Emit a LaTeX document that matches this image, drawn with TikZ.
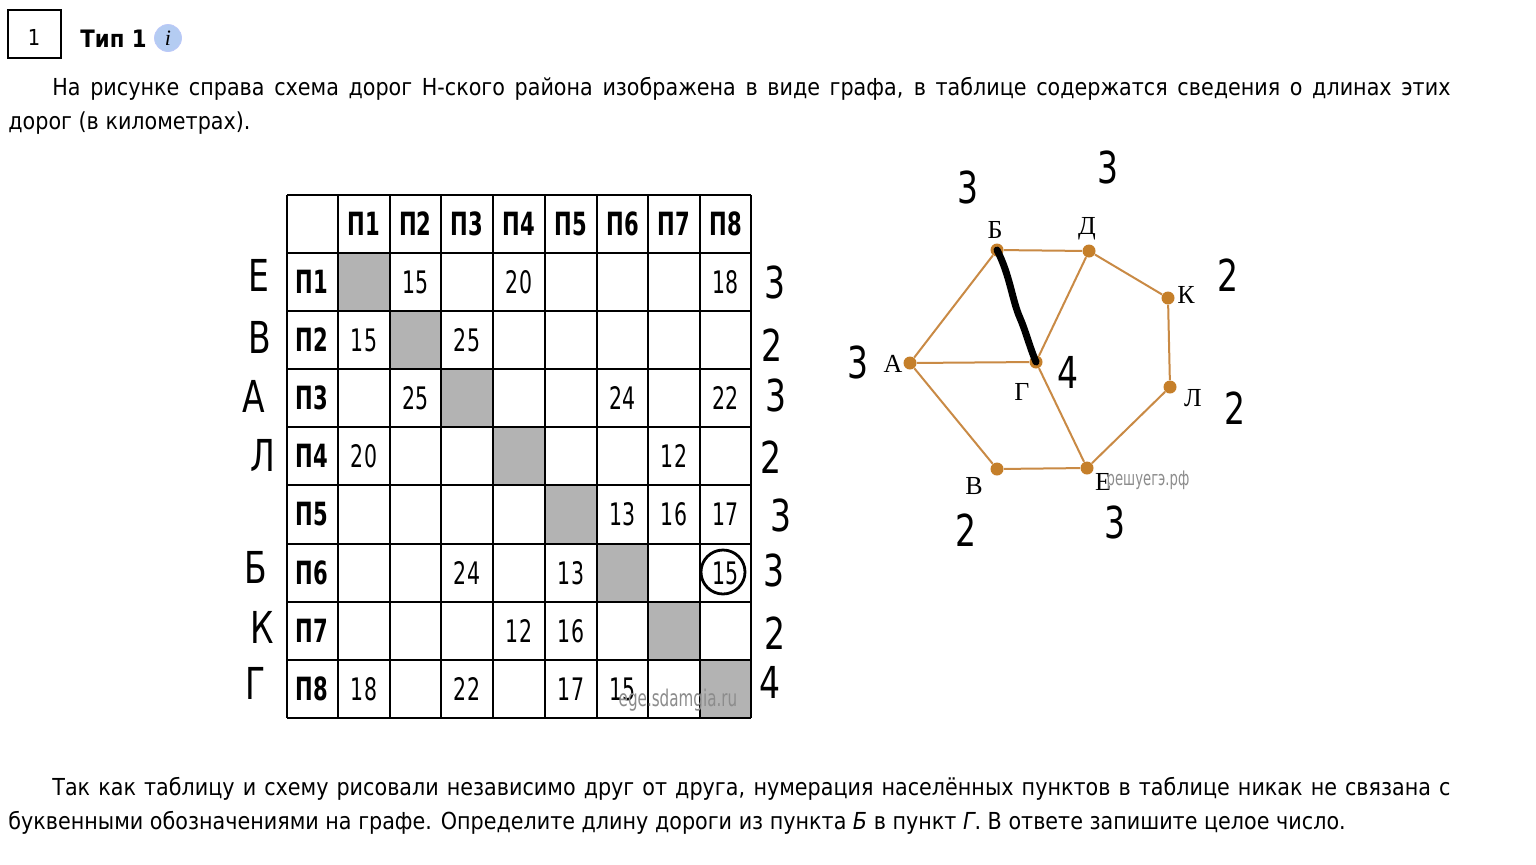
\documentclass[tikz,border=0pt]{standalone}
\usepackage{fontspec}
\setmainfont{DejaVu Sans}[FakeStretch=0.885]
\newfontfamily\tabfont{DejaVu Sans}[FakeStretch=0.66]
\newfontfamily\serf{Liberation Serif}
\newfontfamily\hand{DejaVu Sans}[FakeStretch=0.75]
\definecolor{road}{HTML}{C98A45}
\definecolor{dotc}{HTML}{C57F2A}
\definecolor{cellgray}{HTML}{B3B3B3}
\definecolor{wm}{HTML}{8C8C8C}
\definecolor{infoblue}{HTML}{B4CCF2}
\begin{document}
\begin{tikzpicture}[x=0.5pt,y=-0.5pt,
  body/.style={anchor=base west,inner sep=0,font=\fontsize{11.7}{14}\selectfont},
  hd/.style={inner sep=0,font=\tabfont\bfseries\fontsize{16}{16}\selectfont},
  val/.style={inner sep=0,font=\tabfont\fontsize{15.5}{16}\selectfont},
  hw/.style={inner sep=0,font=\hand\fontsize{22}{22}\selectfont},
  vtx/.style={circle,fill=dotc,inner sep=0,minimum size=6.5pt},
  vlab/.style={inner sep=0,font=\serf\fontsize{13}{13}\selectfont},
  edge/.style={road,line width=1pt},
  grid/.style={line width=1pt,black}]
\useasboundingbox (0,0) rectangle (1536,864);
\fill[white] (0,0) rectangle (1536,864);
% header
\draw[line width=1pt] (8,10) rectangle (61,58);
\node[inner sep=0,font=\fontsize{11}{12}\selectfont] (num) at (34,37) {1};
\node[anchor=base west,inner sep=0,font=\bfseries\fontsize{12}{12}\selectfont] (typ) at (80,47) {Тип 1};
\node[circle,inner sep=0,minimum size=13.5pt,fill=infoblue,draw=infoblue!80!blue!60] (info) at (168,38) {\serf\itshape\fontsize{11}{11}\selectfont i};
% text
\node[body] (t1) at (52,95) {\makebox[699pt][s]{На рисунке справа схема дорог Н-ского района изображена в виде графа, в таблице содержатся сведения о длинах этих}};
\node[body] (t2) at (8,129) {дорог (в километрах).};
\node[body] (t3) at (52,795) {\makebox[699pt][s]{Так как таблицу и схему рисовали независимо друг от друга, нумерация населённых пунктов в таблице никак не связана с}};
\node[body] (t4) at (8,829) {буквенными обозначениями на графе. Определите длину дороги из пункта \textit{Б} в пункт \textit{Г}. В ответе запишите целое число.};
% table gray cells
\foreach \a/\b/\c/\d in {338/253/390/311,390/311/441/369,441/369/493/427,493/427/545/485,545/485/597/544,597/544/648/602,648/602/700/660,700/660/751/718}
  \fill[cellgray] (\a,\b) rectangle (\c,\d);
% grid
\foreach \x in {287,338,390,441,493,545,597,648,700,751}
  \draw[grid] (\x,195) -- (\x,718);
\foreach \y in {195,253,311,369,427,485,544,602,660,718}
  \draw[grid] (287,\y) -- (751,\y);
% headers
\foreach \i/\x in {1/364,2/415.5,3/467,4/519,5/571,6/622.5,7/674,8/725.5}
  \node[hd] (ch\i) at (\x,224) {П\i};
\foreach \i/\y in {1/282,2/340,3/398,4/456,5/514.5,6/573,7/631,8/689}
  \node[hd] (rh\i) at (312,\y) {П\i};
% values
\foreach \r/\c/\v/\x/\y in {
 1/2/15/415.5/282, 1/4/20/519/282, 1/8/18/725.5/282,
 2/1/15/364/340, 2/3/25/467/340,
 3/2/25/415.5/398, 3/6/24/622.5/398, 3/8/22/725.5/398,
 4/1/20/364/456, 4/7/12/674/456,
 5/6/13/622.5/514.5, 5/7/16/674/514.5, 5/8/17/725.5/514.5,
 6/3/24/467/573, 6/5/13/571/573, 6/8/15/725.5/573,
 7/4/12/519/631, 7/5/16/571/631,
 8/1/18/364/689, 8/3/22/467/689, 8/5/17/571/689, 8/6/15/622.5/689}
  \node[val] (v\r\c) at (\x,\y) {\v};
\node[inner sep=0,font=\tabfont\fontsize{11.5}{12}\selectfont,text=wm] (wm1) at (678,700) {ege.sdamgia.ru};
% circled 15
\draw[line width=1.4pt] (723,572) circle [radius=11pt];
% handwritten left
\foreach \t/\x/\y/\n in {Е/259/275/1,В/260/337/2,А/254/396/3,Л/263/455/4,Б/256/567/6,К/262/627/7,Г/256/683/8}
  \node[hw] (hl\n) at (\x,\y) {\t};
% handwritten right
\foreach \t/\x/\y/\n in {3/775/282/1,2/772/345/2,3/776/395/3,2/771/457/4,3/781/515/5,3/774/570/6,2/775/633/7,4/770/682/8}
  \node[hw] (hr\n) at (\x,\y) {\t};
% graph
\node[vtx] (A) at (910,363) {};
\node[vtx] (B) at (997,250) {};
\node[vtx] (D) at (1089,251) {};
\node[vtx] (K) at (1168,298) {};
\node[vtx] (L) at (1170,387) {};
\node[vtx] (E) at (1087,468) {};
\node[vtx] (V) at (997,469) {};
\node[vtx] (G) at (1036,362) {};
\draw[edge] (A) -- (B);
\draw[edge] (B) -- (D);
\draw[edge] (D) -- (K);
\draw[edge] (K) -- (L);
\draw[edge] (L) -- (E);
\draw[edge] (E) -- (V);
\draw[edge] (V) -- (A);
\draw[edge] (A) -- (G);
\draw[edge] (G) -- (D);
\draw[edge] (G) -- (E);
\draw[line width=3.5pt,line cap=round] (B.center) .. controls (1010,275) and (1012,300) .. (1020,318) .. controls (1026,332) and (1029,345) .. (G.center);
\node[vlab] (lA) at (893,364) {А};
\node[vlab] (lB) at (995,230) {Б};
\node[vlab] (lD) at (1087,229) {Д};
\node[vlab] (lK) at (1186,295) {К};
\node[vlab] (lL) at (1193,398) {Л};
\node[vlab] (lG) at (1022,392) {Г};
\node[vlab] (lV) at (974,486) {В};
\node[vlab] (lE) at (1103,482) {Е};
\node[inner sep=0,font=\tabfont\fontsize{10}{10}\selectfont,text=wm] (wm2) at (1148,480) {решуегэ.рф};
% handwritten graph numbers
\foreach \t/\x/\y/\n in {3/968/187/1,3/1108/167/2,2/1228/275/3,3/858/362/4,4/1068/372/5,2/1235/408/6,2/966/530/7,3/1115/522/8}
  \node[hw] (hg\n) at (\x,\y) {\t};
\end{tikzpicture}
\end{document}
